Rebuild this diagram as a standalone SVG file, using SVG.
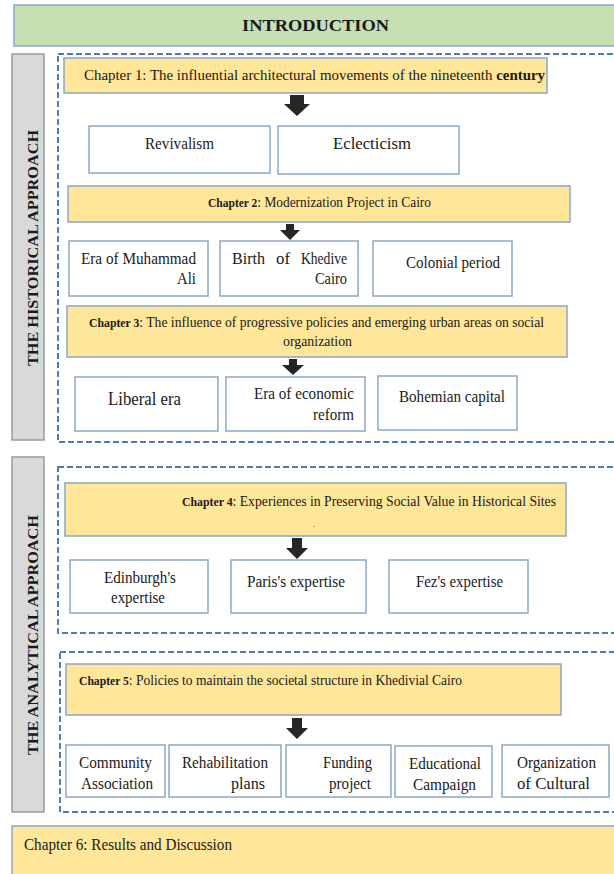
<svg xmlns="http://www.w3.org/2000/svg" width="614" height="874" viewBox="0 0 614 874">
<style>
.t{font-family:"Liberation Serif","Times New Roman",serif;fill:#1a1a1a;}
.box{fill:#ffffff;stroke:#8aa6c8;stroke-width:1.5;}
.ch{fill:#ffe699;stroke:#8aa6c8;stroke-width:1.5;}
.side{fill:#d9d9d9;stroke:#9a9a9a;stroke-width:1.5;}
.dash{fill:none;stroke:#4f7db3;stroke-width:2;stroke-dasharray:6,3;}
.arr{fill:#262626;}
.b{font-weight:bold;}
</style>
<rect width="614" height="874" fill="#ffffff"/>

<g id="introduction">
<rect x="14" y="5" width="606" height="41" fill="#c6e0b4" stroke="#8aa6c8" stroke-width="1.5"/>
<text class="t b" x="315.5" y="31" font-size="17" text-anchor="middle" textLength="147" lengthAdjust="spacingAndGlyphs">INTRODUCTION</text>
</g>

<g id="historical-label">
<rect class="side" x="12" y="54" width="32" height="386"/>
<text class="t b" x="0" y="0" font-size="15" text-anchor="middle" transform="translate(38,248) rotate(-90)" textLength="236" lengthAdjust="spacingAndGlyphs">THE HISTORICAL APPROACH</text>
</g>
<g id="historical-frame"><rect class="dash" x="58" y="54" width="570" height="388"/></g>

<g id="chapter1">
<rect class="ch" x="64" y="58" width="483" height="35"/>
<text class="t" x="84" y="80" font-size="14.5" textLength="461" lengthAdjust="spacingAndGlyphs">Chapter 1: The influential architectural movements of the nineteenth <tspan class="b">century</tspan></text>
</g>
<g id="revivalism">
<rect class="box" x="89" y="126" width="181" height="47"/>
<text class="t" x="179.5" y="149" font-size="16" text-anchor="middle" textLength="69" lengthAdjust="spacingAndGlyphs">Revivalism</text>
</g>
<g id="eclecticism">
<rect class="box" x="278" y="126" width="181" height="48"/>
<text class="t" x="372" y="149" font-size="16" text-anchor="middle" textLength="78" lengthAdjust="spacingAndGlyphs">Eclecticism</text>
</g>

<g id="chapter2">
<rect class="ch" x="68" y="186" width="502" height="36"/>
<text class="t" x="208" y="207" font-size="14.5" textLength="223" lengthAdjust="spacingAndGlyphs"><tspan class="b" font-size="12.5">Chapter 2</tspan>: Modernization Project in Cairo</text>
</g>
<g id="era-muhammad-ali">
<rect class="box" x="69" y="241" width="139" height="55"/>
<text class="t" x="81" y="264" font-size="16" textLength="115" lengthAdjust="spacingAndGlyphs">Era of Muhammad</text>
<text class="t" x="196" y="284" font-size="16" text-anchor="end" textLength="19" lengthAdjust="spacingAndGlyphs">Ali</text>
</g>
<g id="birth-khedive-cairo">
<rect class="box" x="220" y="241" width="138" height="55"/>
<text class="t" y="264" font-size="16"><tspan x="232" textLength="33" lengthAdjust="spacingAndGlyphs">Birth</tspan><tspan x="276" textLength="14" lengthAdjust="spacingAndGlyphs">of</tspan><tspan x="301" textLength="46" lengthAdjust="spacingAndGlyphs">Khedive</tspan></text>
<text class="t" x="347" y="284" font-size="16" text-anchor="end" textLength="32" lengthAdjust="spacingAndGlyphs">Cairo</text>
</g>
<g id="colonial-period">
<rect class="box" x="373" y="241" width="139" height="55"/>
<text class="t" x="453" y="268" font-size="16" text-anchor="middle" textLength="94" lengthAdjust="spacingAndGlyphs">Colonial period</text>
</g>

<g id="chapter3">
<rect class="ch" x="67" y="306" width="500" height="51"/>
<text class="t" x="316.5" y="327" font-size="14.5" text-anchor="middle" textLength="455" lengthAdjust="spacingAndGlyphs"><tspan class="b" font-size="12.5">Chapter 3</tspan>:  The influence of progressive policies and emerging urban areas on social</text>
<text class="t" x="317.5" y="346" font-size="14.5" text-anchor="middle" textLength="69" lengthAdjust="spacingAndGlyphs">organization</text>
</g>
<g id="liberal-era">
<rect class="box" x="75" y="377" width="143" height="54"/>
<text class="t" x="144.5" y="405" font-size="18" text-anchor="middle" textLength="73" lengthAdjust="spacingAndGlyphs">Liberal era</text>
</g>
<g id="era-economic-reform">
<rect class="box" x="226" y="377" width="139" height="54"/>
<text class="t" x="354" y="399" font-size="16" text-anchor="end" textLength="100" lengthAdjust="spacingAndGlyphs">Era of economic</text>
<text class="t" x="354" y="420" font-size="16" text-anchor="end" textLength="41" lengthAdjust="spacingAndGlyphs">reform</text>
</g>
<g id="bohemian-capital">
<rect class="box" x="378" y="376" width="139" height="54"/>
<text class="t" x="452" y="402" font-size="16" text-anchor="middle" textLength="106" lengthAdjust="spacingAndGlyphs">Bohemian capital</text>
</g>

<g id="analytical-label">
<rect class="side" x="12" y="457" width="32" height="355"/>
<text class="t b" x="0" y="0" font-size="15" text-anchor="middle" transform="translate(38,635) rotate(-90)" textLength="240" lengthAdjust="spacingAndGlyphs">THE ANALYTICAL APPROACH</text>
</g>
<g id="analytical-frame-1"><rect class="dash" x="58" y="467" width="570" height="166"/></g>

<g id="chapter4">
<rect class="ch" x="65" y="483" width="501" height="53"/>
<text class="t" x="182" y="506" font-size="14.5" textLength="374" lengthAdjust="spacingAndGlyphs"><tspan class="b" font-size="12.5">Chapter 4</tspan>: Experiences in Preserving Social Value in Historical Sites</text>
<text class="t" x="314" y="527" font-size="8" text-anchor="middle">.</text>
</g>
<g id="edinburgh">
<rect class="box" x="70" y="560" width="138" height="53"/>
<text class="t" x="140" y="583" font-size="16" text-anchor="middle" textLength="72" lengthAdjust="spacingAndGlyphs">Edinburgh's</text>
<text class="t" x="138" y="603" font-size="16" text-anchor="middle" textLength="54" lengthAdjust="spacingAndGlyphs">expertise</text>
</g>
<g id="paris">
<rect class="box" x="231" y="560" width="135" height="53"/>
<text class="t" x="296" y="587" font-size="16" text-anchor="middle" textLength="98" lengthAdjust="spacingAndGlyphs">Paris's expertise</text>
</g>
<g id="fez">
<rect class="box" x="389" y="560" width="139" height="53"/>
<text class="t" x="459.5" y="587" font-size="16" text-anchor="middle" textLength="87" lengthAdjust="spacingAndGlyphs">Fez's expertise</text>
</g>

<g id="analytical-frame-2"><rect class="dash" x="60" y="652" width="568" height="160"/></g>

<g id="chapter5">
<rect class="ch" x="66" y="664" width="495" height="51"/>
<text class="t" x="79" y="685" font-size="14.5" textLength="383" lengthAdjust="spacingAndGlyphs"><tspan class="b" font-size="12.5">Chapter 5</tspan>: Policies to maintain the societal structure in Khedivial Cairo</text>
</g>
<g id="community-association">
<rect class="box" x="66" y="745" width="99" height="52"/>
<text class="t" x="115.5" y="768" font-size="16" text-anchor="middle" textLength="73" lengthAdjust="spacingAndGlyphs">Community</text>
<text class="t" x="117" y="789" font-size="16" text-anchor="middle" textLength="72" lengthAdjust="spacingAndGlyphs">Association</text>
</g>
<g id="rehabilitation-plans">
<rect class="box" x="169" y="745" width="112" height="52"/>
<text class="t" x="225" y="768" font-size="16" text-anchor="middle" textLength="86" lengthAdjust="spacingAndGlyphs">Rehabilitation</text>
<text class="t" x="265" y="789" font-size="16" text-anchor="end" textLength="34" lengthAdjust="spacingAndGlyphs">plans</text>
</g>
<g id="funding-project">
<rect class="box" x="286" y="745" width="105" height="52"/>
<text class="t" x="372" y="768" font-size="16" text-anchor="end" textLength="49" lengthAdjust="spacingAndGlyphs">Funding</text>
<text class="t" x="371" y="789" font-size="16" text-anchor="end" textLength="42" lengthAdjust="spacingAndGlyphs">project</text>
</g>
<g id="educational-campaign">
<rect class="box" x="395" y="746" width="97" height="51"/>
<text class="t" x="445" y="769" font-size="16" text-anchor="middle" textLength="72" lengthAdjust="spacingAndGlyphs">Educational</text>
<text class="t" x="444.5" y="790" font-size="16" text-anchor="middle" textLength="63" lengthAdjust="spacingAndGlyphs">Campaign</text>
</g>
<g id="organization-cultural">
<rect class="box" x="502" y="745" width="107" height="52"/>
<text class="t" x="556.5" y="768" font-size="16" text-anchor="middle" textLength="79" lengthAdjust="spacingAndGlyphs">Organization</text>
<text class="t" x="553.5" y="789" font-size="16" text-anchor="middle" textLength="73" lengthAdjust="spacingAndGlyphs">of Cultural</text>
</g>

<g id="chapter6">
<rect class="ch" x="12" y="826" width="610" height="60"/>
<text class="t" x="24" y="850" font-size="16" textLength="208" lengthAdjust="spacingAndGlyphs">Chapter 6: Results and Discussion</text>
</g>

<g id="connectors">
<path class="arr" d="M290 95 H304 V104 H310 L297 116 L284 104 H290 Z"/>
<path class="arr" d="M286 224 H294 V230 H300 L290 240 L280 230 H286 Z"/>
<path class="arr" d="M289 359 H297 V365 H304 L293 375 L282 365 H289 Z"/>
<path class="arr" d="M292 538 H302 V548 H308 L297 559 L286 548 H292 Z"/>
<path class="arr" d="M292 718 H302 V728 H308 L297 739 L286 728 H292 Z"/>
</g>
</svg>
